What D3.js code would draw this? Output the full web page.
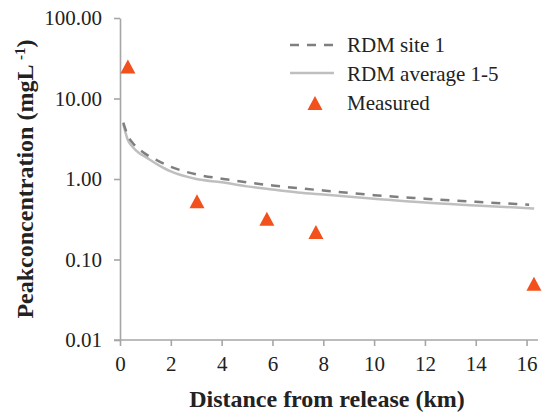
<!DOCTYPE html>
<html>
<head>
<meta charset="utf-8">
<script src="https://cdn.jsdelivr.net/npm/d3@7"></script>
<style>
body { margin: 0; background: #fff; }
svg { display: block; }
text { font-family: "Liberation Serif", "Times New Roman", serif; fill: #222; }
</style>
</head>
<body>
<svg></svg>
<script>
var width = 545;
var height = 413;

// model curves (km, mg/L)
var siteDist = [0.13, 0.3, 0.5, 0.75, 1, 1.5, 2, 3, 4, 5, 6, 7, 8, 10, 12, 14, 16.1];
var siteVals = [5.0, 3.5, 2.8, 2.35, 2.05, 1.68, 1.42, 1.14, 1.01, 0.91, 0.83, 0.77, 0.72, 0.63, 0.57, 0.52, 0.48];
var avgDist = [0.13, 0.3, 0.5, 0.75, 1, 1.5, 2, 3, 4, 5, 6, 7, 8, 10, 12, 14, 16.3];
var avgVals = [4.8, 3.1, 2.5, 2.1, 1.88, 1.5, 1.24, 1.0, 0.91, 0.81, 0.74, 0.68, 0.64, 0.57, 0.51, 0.47, 0.43];

// measured
var measDist = [0.31, 3.03, 5.78, 7.71, 16.29];
var measVals = [25.0, 0.53, 0.32, 0.22, 0.05];

var xTicks = [0, 2, 4, 6, 8, 10, 12, 14, 16];
var yTicks = [0.01, 0.1, 1, 10, 100];
var legendNames = ["RDM site 1", "RDM average 1-5", "Measured"];

var axisColor = "#a6a6a6";
var measColor = "#f2501d";

var svg = d3.select("svg").attr("width", width).attr("height", height);

var x = d3.scaleLinear().domain([0, 16.45]).range([120, 538]);
var y = d3.scaleLog().domain([0.01, 100]).range([340, 18]);

function tri(cx, cy, w, h){
	return "M" + cx + "," + (cy - h/2) + "L" + (cx + w/2) + "," + (cy + h/2) + "L" + (cx - w/2) + "," + (cy + h/2) + "Z";
}

// axes
var gx = svg.append("g").attr("transform", "translate(0,340)")
	.call(d3.axisBottom(x).tickValues(xTicks).tickSize(6).tickPadding(10).tickSizeOuter(0));
var gy = svg.append("g").attr("transform", "translate(120,0)")
	.call(d3.axisLeft(y).tickValues(yTicks).tickFormat(d3.format(".2f")).tickSize(6).tickPadding(12).tickSizeOuter(0));

[gx, gy].forEach(function(g){
	g.attr("font-family", null).attr("font-size", null);
	g.select(".domain").attr("stroke", axisColor).attr("stroke-width", 1.6);
	g.selectAll(".tick line").attr("stroke", axisColor).attr("stroke-width", 1.6);
	g.selectAll(".tick text")
		.style("font-family", "'Liberation Serif', serif")
		.style("font-size", "21px")
		.attr("fill", "#222");
});
// x axis runs under the y ticks a little
gx.select(".domain").attr("d", "M114,0H538");

// lines
var line = d3.line().x(function(d){ return x(d[0]); }).y(function(d){ return y(d[1]); }).curve(d3.curveMonotoneX);

svg.append("path")
	.datum(d3.zip(avgDist, avgVals))
	.attr("d", line)
	.attr("fill", "none").attr("stroke", "#bfbfbf").attr("stroke-width", 2.5);

svg.append("path")
	.datum(d3.zip(siteDist, siteVals))
	.attr("d", line)
	.attr("fill", "none").attr("stroke", "#7f7f7f").attr("stroke-width", 2.5)
	.attr("stroke-dasharray", "9,8");

svg.selectAll(".meas").data(d3.zip(measDist, measVals))
	.enter().append("path")
	.attr("class", "meas")
	.attr("d", function(d){ return tri(x(d[0]), y(d[1]), 15, 14); })
	.attr("fill", measColor);

// legend
var lg = svg.append("g");
lg.append("line").attr("x1", 290).attr("x2", 334).attr("y1", 45).attr("y2", 45)
	.attr("stroke", "#7f7f7f").attr("stroke-width", 2.5).attr("stroke-dasharray", "9,8");
lg.append("line").attr("x1", 290).attr("x2", 334).attr("y1", 73).attr("y2", 73)
	.attr("stroke", "#bfbfbf").attr("stroke-width", 2.5);
lg.append("path").attr("d", tri(315, 103, 15, 14)).attr("fill", measColor);
lg.selectAll("text").data(legendNames)
	.enter().append("text")
	.attr("x", 347)
	.attr("y", function(d, i){ return 45 + i*29; })
	.attr("dy", "0.35em")
	.style("font-size", "21px")
	.text(function(d){ return d; });

// titles
svg.append("text")
	.attr("x", 327).attr("y", 407)
	.attr("text-anchor", "middle")
	.style("font-size", "24px").style("font-weight", "bold")
	.text("Distance from release (km)");

var yt = svg.append("text")
	.attr("transform", "translate(33,179) rotate(-90)")
	.attr("text-anchor", "middle")
	.style("font-size", "24px").style("font-weight", "bold");
yt.append("tspan").text("Peakconcentration (mgL ");
yt.append("tspan").attr("dy", -8).style("font-size", "15px").text("-1");
yt.append("tspan").attr("dy", 8).text(")");
</script>
</body>
</html>
